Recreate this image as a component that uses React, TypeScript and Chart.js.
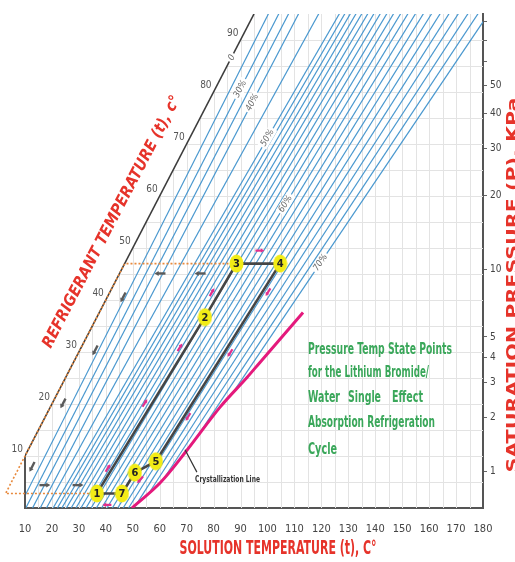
import React, { useEffect, useRef } from "react";
import { Chart, registerables } from "chart.js";

Chart.register(...registerables);

const NARROW = "'Liberation Sans Narrow', 'DejaVu Sans Condensed', 'Liberation Sans', Arial, sans-serif";

// ---------------- data ----------------
const solutionTempTicks = [10, 20, 30, 40, 50, 60, 70, 80, 90, 100, 110, 120, 130, 140, 150, 160, 170, 180];
const refrigerantTempLabels = [10, 20, 30, 40, 50, 60, 70, 80, 90];

// right axis: saturation pressure (kPa) placed at its saturation temperature (°C)
const pressureTickLabels = ["1", "2", "3", "4", "5", "10", "20", "30", "40", "50", "", "", ""];
const pressureSatTemps = [7.0, 17.5, 24.1, 29.0, 32.9, 45.8, 60.1, 69.1, 75.9, 81.3, 85.9, 90.0, 93.5];

// 0 % (pure water) line
const pureWaterSol = [10, 95];
const pureWaterRef = [10, 95];

// low concentration lines (25..45 %): solution temp at refrigerant temp 0 and 100
const lowConcStartSol = [7.7, 10.3, 12.8, 15.65, 17.96];
const lowConcEndSol = [105.2, 109.1, 112.8, 116.55, 124.3];

// 50..70 % lines (1 % steps)
const highConc = [50, 51, 52, 53, 54, 55, 56, 57, 58, 59, 60, 61, 62, 63, 64, 65, 66, 67, 68, 69, 70];
const highConcStartSol = [20.44, 22.02, 23.67, 25.36, 27.12, 28.91, 30.75, 32.63, 34.54, 36.48, 38.44, 40.42, 42.41, 44.41, 46.42, 48.42, 51.2, 56.1, 61.8, 73.5, 86.8];
const highConcStartRef = [0, 0, 0, 0, 0, 0, 0, 0, 0, 0, 0, 0, 0, 0, 0, 0, 0.6, 2.94, 5.86, 13.4, 21.9];
const highConcEndSol = [132.23, 134.27, 136.34, 138.46, 140.63, 142.87, 145.17, 147.55, 150.01, 152.55, 155.2, 157.94, 160.8, 163.78, 166.88, 170.11, 173.48, 177.0, 180.66, 184.49, 188.49];

// concentration labels
const concLabelText = ["0", "30%", "40%", "50%", "60%", "70%"];
const concLabelSol = [86.8, 89.9, 94.4, 100.0, 106.7, 119.7];
const concLabelRef = [86.6, 80.6, 78.0, 71.2, 58.5, 47.2];
const concLabelSlope = [1.0, 0.988, 1.009, 1.118, 1.168, 1.302];

// crystallization line
const crystalSol = [49.7, 60.1, 70.1, 82.4, 92.4, 97.2, 113.2];
const crystalRef = [0, 4.8, 11.1, 19.4, 25.1, 28.0, 37.6];

// cycle state points
const cycleLabels = ["1", "2", "3", "4", "5", "6", "7"];
const cycleSol = [36.7, 76.8, 88.5, 104.7, 58.6, 50.8, 46.0];
const cycleRef = [2.8, 36.7, 47.0, 47.0, 9.0, 6.8, 2.8];
const cyclePathOrder = [0, 1, 2, 3, 4, 5, 6, 0];

// condenser / evaporator (orange dotted)
const condEvapSol = [36.7, 2.8, 47.0, 88.5];
const condEvapRef = [2.8, 2.8, 47.0, 47.0];

// left axis stub
const stubSol = [10, 10];
const stubRef = [0, 10];

// refrigerant flow arrows (gray)
const flowArrowSol = [46.4, 36.0, 24.1, 12.6, 17.4, 29.7, 60.1, 75.0];
const flowArrowRef = [40.5, 30.3, 20.1, 7.9, 4.4, 4.4, 45.1, 45.1];
const flowArrowDx = [-1, -1, -1, -1, 1, 1, -1, -1];
const flowArrowDy = [-1, -1, -1, -1, 0, 0, 0, 0];

// solution flow arrows (pink)
const solArrowSol = [40.8, 54.5, 67.5, 79.4, 97.2, 100.2, 86.1, 70.5, 52.7, 40.4];
const solArrowRef = [7.7, 20.2, 30.9, 41.5, 49.5, 41.5, 29.8, 17.5, 5.4, 0.6];
const solArrowDx = [1.19, 1.19, 1.19, 1.12, 1, -1.21, -1.21, -1.21, -1, -1];
const solArrowDy = [1, 1, 1, 1, 0, -1, -1, -1, -0.6, 0];

// crystallization label leader
const leaderSol = [69.4, 73.8];
const leaderRef = [11.2, 6.9];

const infoLines = ["Pressure Temp State Points", "for the Lithium Bromide/", "Absorption Refrigeration", "Cycle"];

// ---------------- helpers ----------------
function fitText(ctx: CanvasRenderingContext2D, text: string, x: number, y: number, width: number, font: string, angle: number, color: string, align: CanvasTextAlign) {
  ctx.save();
  ctx.font = font;
  const w = ctx.measureText(text).width || 1;
  ctx.translate(x, y);
  ctx.rotate(angle);
  ctx.scale(width / w, 1);
  ctx.fillStyle = color;
  ctx.textAlign = align;
  ctx.textBaseline = "middle";
  ctx.fillText(text, 0, 0);
  ctx.restore();
}

function drawArrow(ctx: CanvasRenderingContext2D, cx: number, cy: number, ang: number, len: number, color: string, width: number, head: number) {
  ctx.save();
  ctx.translate(cx, cy);
  ctx.rotate(ang);
  ctx.strokeStyle = color;
  ctx.fillStyle = color;
  ctx.lineWidth = width;
  ctx.beginPath();
  ctx.moveTo(-len / 2, 0);
  ctx.lineTo(len / 2 - head, 0);
  ctx.stroke();
  ctx.beginPath();
  ctx.moveTo(len / 2, 0);
  ctx.lineTo(len / 2 - head * 1.2, -head * 0.7);
  ctx.lineTo(len / 2 - head * 1.2, head * 0.7);
  ctx.closePath();
  ctx.fill();
  ctx.restore();
}

const gridPlugin = {
  id: "clippedGrid",
  beforeDatasetsDraw(chart: any) {
    const { ctx, chartArea: a, scales } = chart;
    const x = scales.x, y = scales.y;
    ctx.save();
    ctx.beginPath();
    ctx.moveTo(a.left, a.bottom);
    ctx.lineTo(x.getPixelForValue(10), y.getPixelForValue(10));
    ctx.lineTo(x.getPixelForValue(y.max), a.top);
    ctx.lineTo(a.right, a.top);
    ctx.lineTo(a.right, a.bottom);
    ctx.closePath();
    ctx.clip();
    ctx.strokeStyle = "#e3e3e3";
    ctx.lineWidth = 1;
    for (let v = 15; v < 180; v += 5) {
      const X = Math.round(x.getPixelForValue(v)) + 0.5;
      ctx.beginPath();
      ctx.moveTo(X, a.top);
      ctx.lineTo(X, a.bottom);
      ctx.stroke();
    }
    for (let v = 5; v < 95; v += 5) {
      const Y = Math.round(y.getPixelForValue(v)) + 0.5;
      ctx.beginPath();
      ctx.moveTo(a.left, Y);
      ctx.lineTo(a.right, Y);
      ctx.stroke();
    }
    ctx.restore();
  },
};

const annotationPlugin = {
  id: "annotations",
  afterDatasetsDraw(chart: any) {
    const { ctx, scales } = chart;
    const x = scales.x, y = scales.y;
    const P = (a: number, b: number) => [x.getPixelForValue(a), y.getPixelForValue(b)];
    const angleOf = (s: number, r: number, dx: number, dy: number) => {
      const [X1, Y1] = P(s, r);
      const [X2, Y2] = P(s + dx, r + dy);
      return Math.atan2(Y2 - Y1, X2 - X1);
    };

    // refrigerant temperature labels along the 0 % line
    ctx.save();
    ctx.font = `10px ${NARROW}`;
    ctx.fillStyle = "#555";
    ctx.textAlign = "right";
    ctx.textBaseline = "middle";
    refrigerantTempLabels.forEach((t) => {
      const [X, Y] = P(t, t);
      ctx.fillText(String(t), X - 2, Y - 7);
    });
    ctx.restore();

    // concentration labels
    concLabelText.forEach((txt, i) => {
      const [X, Y] = P(concLabelSol[i], concLabelRef[i]);
      const ang = angleOf(concLabelSol[i], concLabelRef[i], concLabelSlope[i], 1);
      ctx.save();
      ctx.translate(X, Y);
      ctx.rotate(ang);
      ctx.font = `italic 9px ${NARROW}`;
      const w = ctx.measureText(txt).width;
      ctx.fillStyle = "#fff";
      ctx.fillRect(-w / 2 - 2, -5, w + 4, 10);
      ctx.fillStyle = "#666";
      ctx.textAlign = "center";
      ctx.textBaseline = "middle";
      ctx.fillText(txt, 0, 0);
      ctx.restore();
    });

    // gray refrigerant arrows
    flowArrowSol.forEach((s, i) => {
      const [X, Y] = P(s, flowArrowRef[i]);
      drawArrow(ctx, X, Y, angleOf(s, flowArrowRef[i], flowArrowDx[i], flowArrowDy[i]), 11, "#5a5a5a", 2.4, 3.5);
    });
    // pink solution arrows
    solArrowSol.forEach((s, i) => {
      const [X, Y] = P(s, solArrowRef[i]);
      drawArrow(ctx, X, Y, angleOf(s, solArrowRef[i], solArrowDx[i], solArrowDy[i]), 9, "#e2308c", 2.2, 3);
    });

    // point numbers
    ctx.save();
    ctx.font = `bold 11px ${NARROW}`;
    ctx.fillStyle = "#222";
    ctx.textAlign = "center";
    ctx.textBaseline = "middle";
    cycleLabels.forEach((l, i) => {
      const [X, Y] = P(cycleSol[i], cycleRef[i]);
      ctx.fillText(l, X, Y + 0.5);
    });
    ctx.restore();

    // crystallization label + leader
    const [lx1, ly1] = P(leaderSol[0], leaderRef[0]);
    const [lx2, ly2] = P(leaderSol[1], leaderRef[1]);
    ctx.save();
    ctx.strokeStyle = "#333";
    ctx.lineWidth = 1.2;
    ctx.beginPath();
    ctx.moveTo(lx1, ly1);
    ctx.lineTo(lx2, ly2);
    ctx.stroke();
    ctx.restore();
    fitText(ctx, "Crystallization Line", 195, 480, 65, `bold 9px ${NARROW}`, 0, "#333", "left");

    // info block
    const green = "#3aa75a";
    const gFont = `bold 15px ${NARROW}`;
    fitText(ctx, infoLines[0], 308, 350, 144, gFont, 0, green, "left");
    fitText(ctx, infoLines[1], 308, 373, 121, gFont, 0, green, "left");
    fitText(ctx, "Water", 308, 398, 32, gFont, 0, green, "left");
    fitText(ctx, "Single", 348, 398, 33, gFont, 0, green, "left");
    fitText(ctx, "Effect", 392, 398, 31, gFont, 0, green, "left");
    fitText(ctx, infoLines[2], 308, 423, 127, gFont, 0, green, "left");
    fitText(ctx, infoLines[3], 308, 450, 29, gFont, 0, green, "left");

    // axis titles
    const red = "#e6332a";
    fitText(ctx, "REFRIGERANT TEMPERATURE (t), c°", 112, 222, 282, `italic bold 16px ${NARROW}`, -Math.atan2(250, 130), red, "center");
    fitText(ctx, "SOLUTION TEMPERATURE (t), C°", 278, 549, 197, `bold 19px ${NARROW}`, 0, red, "center");
    fitText(ctx, "SATURATION PRESSURE (P), KPa", 514, 285, 375, `bold 16px ${NARROW}`, -Math.PI / 2, red, "center");
  },
};

function makeMarker(): HTMLCanvasElement {
  const c = document.createElement("canvas");
  c.width = 15;
  c.height = 19;
  const g = c.getContext("2d")!;
  g.fillStyle = "#f2ec16";
  g.beginPath();
  g.ellipse(7.5, 9.5, 7, 9, 0, 0, Math.PI * 2);
  g.fill();
  return c;
}

export default function App() {
  const ref = useRef<HTMLCanvasElement>(null);

  useEffect(() => {
    const canvas = ref.current!;
    const blue = "#4a98cf";
    const datasets: any[] = [];

    datasets.push({
      label: "State points",
      data: cycleSol.map((s, i) => ({ x: s, y: cycleRef[i] })),
      showLine: false,
      pointStyle: makeMarker(),
      pointRadius: 8,
      order: 0,
      yAxisID: "y",
    });
    datasets.push({
      label: "Cycle",
      data: cyclePathOrder.map((k) => ({ x: cycleSol[k], y: cycleRef[k] })),
      showLine: true,
      borderColor: "#454545",
      borderWidth: 2.6,
      pointRadius: 0,
      order: 1,
      yAxisID: "y",
    });
    datasets.push({
      label: "Condenser / evaporator",
      data: condEvapSol.map((s, i) => ({ x: s, y: condEvapRef[i] })),
      showLine: true,
      borderColor: "#e8893c",
      borderWidth: 1.6,
      borderDash: [2, 2],
      pointRadius: 0,
      clip: false,
      order: 2,
      yAxisID: "y",
    });
    datasets.push({
      label: "Crystallization",
      data: crystalSol.map((s, i) => ({ x: s, y: crystalRef[i] })),
      showLine: true,
      borderColor: "#e4197c",
      borderWidth: 3,
      tension: 0.35,
      pointRadius: 0,
      order: 3,
      yAxisID: "y",
    });
    datasets.push({
      label: "0%",
      data: pureWaterSol.map((s, i) => ({ x: s, y: pureWaterRef[i] })),
      showLine: true,
      borderColor: "#3c3c3c",
      borderWidth: 1.6,
      pointRadius: 0,
      order: 4,
      yAxisID: "y",
    });
    datasets.push({
      label: "stub",
      data: stubSol.map((s, i) => ({ x: s, y: stubRef[i] })),
      showLine: true,
      borderColor: "#555",
      borderWidth: 2,
      pointRadius: 0,
      clip: false,
      order: 4,
      yAxisID: "y",
    });
    lowConcStartSol.forEach((s, i) => {
      datasets.push({
        label: "low" + i,
        data: [{ x: s, y: 0 }, { x: lowConcEndSol[i], y: 100 }],
        showLine: true,
        borderColor: blue,
        borderWidth: 1.2,
        pointRadius: 0,
        order: 5,
        yAxisID: "y",
      });
    });
    highConc.forEach((c, i) => {
      datasets.push({
        label: c + "%",
        data: [{ x: highConcStartSol[i], y: highConcStartRef[i] }, { x: highConcEndSol[i], y: 100 }],
        showLine: true,
        borderColor: blue,
        borderWidth: 1.2,
        pointRadius: 0,
        order: 5,
        yAxisID: "y",
      });
    });

    const chart = new Chart(canvas, {
      type: "scatter",
      data: { datasets },
      options: {
        responsive: false,
        animation: false,
        devicePixelRatio: 1,
        events: [],
        layout: { padding: { top: 14, left: 25, right: 0, bottom: 0 } },
        plugins: { legend: { display: false }, tooltip: { enabled: false } },
        scales: {
          x: {
            type: "linear",
            min: 10,
            max: 180,
            afterBuildTicks: (s: any) => {
              s.ticks = solutionTempTicks.map((v) => ({ value: v }));
            },
            afterFit: (s: any) => {
              s.height = 54;
            },
            grid: { color: "rgba(0,0,0,0)", drawTicks: false },
            border: { color: "#555", width: 2 },
            ticks: {
              padding: 15,
              color: "#444",
              font: { family: NARROW, size: 11 },
              maxRotation: 0,
              autoSkip: false,
              callback: (v: any) => String(v),
            },
          },
          y: { type: "linear", min: 0, max: 95, display: false },
          y2: {
            type: "linear",
            position: "right",
            min: 0,
            max: 95,
            afterBuildTicks: (s: any) => {
              s.ticks = pressureSatTemps.map((v) => ({ value: v }));
            },
            afterFit: (s: any) => {
              s.width = 32;
            },
            grid: { drawOnChartArea: false, drawTicks: true, tickLength: 4, color: "#666" },
            border: { color: "#555", width: 2 },
            ticks: {
              padding: 3,
              color: "#444",
              font: { family: NARROW, size: 10 },
              autoSkip: false,
              callback: (_v: any, i: number) => pressureTickLabels[i],
            },
          },
        },
      } as any,
      plugins: [gridPlugin, annotationPlugin],
    });
    return () => chart.destroy();
  }, []);

  return (
    <div style={{ position: "fixed", left: 0, top: 0, width: 515, height: 562, background: "#fff" }}>
      <canvas ref={ref} width={515} height={562} />
    </div>
  );
}
